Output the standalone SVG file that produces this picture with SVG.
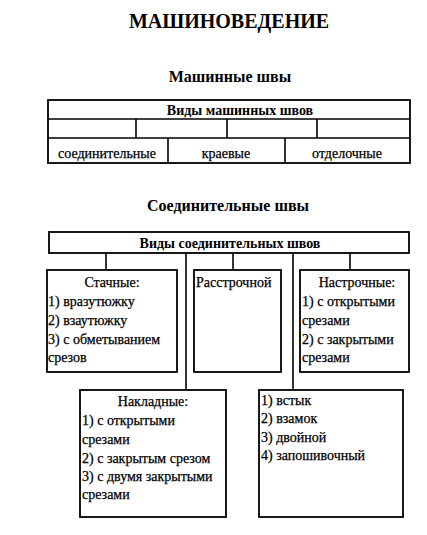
<svg xmlns="http://www.w3.org/2000/svg" width="427" height="535" viewBox="0 0 427 535">
<style>
text{font-family:'Liberation Serif','DejaVu Serif',serif;fill:#000}
.t1{font-size:20px;font-weight:bold}
.t2{font-size:16px;font-weight:bold}
.hd{font-size:14px;font-weight:bold}
.b{font-size:14px;stroke:#000;stroke-width:0.25}
.box{fill:#fff;stroke:#000;stroke-width:1.8}
.ln{stroke:#000;stroke-width:1.6;fill:none}
</style>
<rect width="427" height="535" fill="#fff"/>
<text class="t1" x="229" y="28" text-anchor="middle">МАШИНОВЕДЕНИЕ</text>
<text class="t2" x="230" y="82" text-anchor="middle">Машинные швы</text>
<g id="table">
<rect class="box" x="48" y="100" width="362" height="63"/>
<line class="ln" x1="48" y1="119" x2="410" y2="119"/>
<line class="ln" x1="48" y1="138" x2="410" y2="138"/>
<line class="ln" x1="136" y1="119" x2="136" y2="138"/>
<line class="ln" x1="227" y1="119" x2="227" y2="138"/>
<line class="ln" x1="317" y1="119" x2="317" y2="138"/>
<line class="ln" x1="168" y1="138" x2="168" y2="163"/>
<line class="ln" x1="285" y1="138" x2="285" y2="163"/>
<text class="hd" x="240" y="115" text-anchor="middle">Виды машинных швов</text>
<text class="b" x="107" y="158" text-anchor="middle">соединительные</text>
<text class="b" x="226" y="158" text-anchor="middle">краевые</text>
<text class="b" x="347" y="158" text-anchor="middle">отделочные</text>
</g>
<text class="t2" x="228" y="211" text-anchor="middle">Соединительные швы</text>
<g id="connectors">
<line class="ln" x1="106" y1="253" x2="106" y2="270"/>
<line class="ln" x1="186" y1="253" x2="186" y2="390"/>
<line class="ln" x1="233" y1="253" x2="233" y2="270"/>
<line class="ln" x1="293" y1="253" x2="293" y2="390"/>
<line class="ln" x1="350" y1="253" x2="350" y2="270"/>
</g>
<g id="root">
<rect class="box" x="49" y="232" width="360" height="21"/>
<text class="hd" x="230" y="248" text-anchor="middle">Виды соединительных швов</text>
</g>
<g id="stachnye">
<rect class="box" x="47" y="270" width="130" height="102"/>
<text class="b" x="112" y="287" text-anchor="middle">Стачные:</text>
<text class="b" x="48" y="306">1) вразутюжку</text>
<text class="b" x="48" y="325">2) взаутюжку</text>
<text class="b" x="48" y="344">3) с обметыванием</text>
<text class="b" x="48" y="362">срезов</text>
</g>
<g id="rasstrochnoy">
<rect class="box" x="194" y="270" width="87" height="102"/>
<text class="b" x="196" y="287">Расстрочной</text>
</g>
<g id="nastrochnye">
<rect class="box" x="300" y="270" width="109" height="102"/>
<text class="b" x="357" y="287" text-anchor="middle">Настрочные:</text>
<text class="b" x="302" y="306">1) с открытыми</text>
<text class="b" x="302" y="325">срезами</text>
<text class="b" x="302" y="344">2) с закрытыми</text>
<text class="b" x="302" y="362">срезами</text>
</g>
<g id="nakladnye">
<rect class="box" x="80" y="390" width="146" height="127"/>
<text class="b" x="153" y="406" text-anchor="middle">Накладные:</text>
<text class="b" x="82" y="425">1) с открытыми</text>
<text class="b" x="82" y="444">срезами</text>
<text class="b" x="82" y="463">2) с закрытым срезом</text>
<text class="b" x="82" y="481">3) с двумя закрытыми</text>
<text class="b" x="82" y="499">срезами</text>
</g>
<g id="kraevye">
<rect class="box" x="259" y="390" width="144" height="127"/>
<text class="b" x="261" y="405">1) встык</text>
<text class="b" x="261" y="423">2) взамок</text>
<text class="b" x="261" y="442">3) двойной</text>
<text class="b" x="261" y="460">4) запошивочный</text>
</g>
</svg>
